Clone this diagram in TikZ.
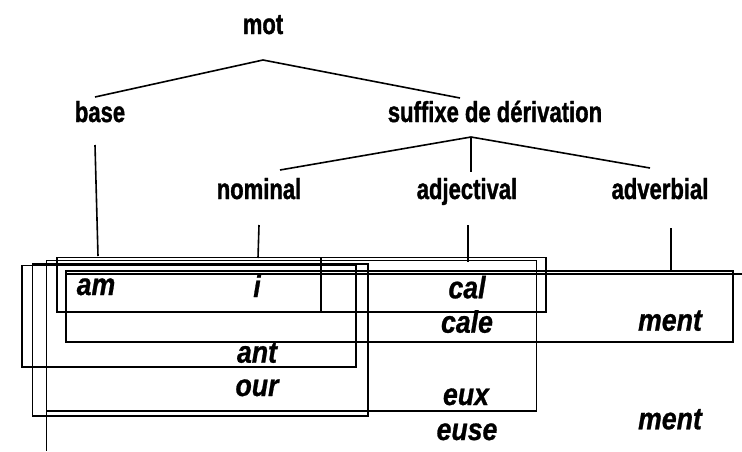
\documentclass[tikz,border=0pt]{standalone}
\usepackage{fontspec}
\setmainfont{Liberation Sans}
\newfontfamily\headfont{Liberation Sans}[FakeStretch=0.76,FakeBold=1.2]
\newfontfamily\morphfont{Liberation Sans}[FakeStretch=0.86,FakeBold=0.8]
\usetikzlibrary{calc}

\tikzset{
  cat/.style={font=\headfont\bfseries\fontsize{29}{32}\selectfont, anchor=base, inner sep=0pt},
  morph/.style={font=\morphfont\bfseries\itshape\fontsize{31}{34}\selectfont, anchor=base, inner sep=0pt},
  branch/.style={line width=1.6pt},
  frame/.style={line width=1.8pt}
}

\begin{document}
\begin{tikzpicture}[x=1pt,y=-1pt]
    \useasboundingbox (0,0) rectangle (742,451);

    % Categories
    \node[cat] (mot) at (263,34) {mot};
    \node[cat] (base) at (100,122) {base};
    \node[cat] (suffixe) at (495,122) {suffixe de dérivation};
    \node[cat] (nominal) at (259,199) {nominal};
    \node[cat] (adjectival) at (467,199) {adjectival};
    \node[cat] (adverbial) at (660,199) {adverbial};

    % Branches
    \draw[branch] ($(base.base)+(-5,-25)$) -- ($(mot.base)+(0,26)$) -- ($(suffixe.base)+(-35,-24)$);
    \draw[branch] ($(nominal.base)+(21,-29)$) -- ($(suffixe.base)+(-24,15)$) -- ($(adverbial.base)+(-10,-31)$);
    \draw[branch] ($(suffixe.base)+(-24,15)$) -- ($(adjectival.base)+(4,-27)$);

    % Links down to the segments
    \coordinate (baseend) at (98,256);
    \coordinate (nominalend) at (258,258);
    \coordinate (adjectivalend) at (468,262);
    \coordinate (adverbialend) at (671,270);
    \draw[branch] ($(base.base)+(-5,23)$) -- (baseend);
    \draw[branch] ($(nominal.base)+(0,26)$) -- (nominalend);
    \draw[branch] ($(adjectival.base)+(1,26)$) -- (adjectivalend);
    \draw[branch] ($(adverbial.base)+(11,29)$) -- (adverbialend);

    % Boxes
    \draw[frame] (56.7,257.5) rectangle (320.7,312);
    \draw[frame] (56.7,257.5) rectangle (546,312);
    \draw[frame] (65.7,271) rectangle (732.7,341.7);
    \draw[frame] (21.7,265.5) rectangle (356,366.7);
    \draw[frame] (32.5,264) rectangle (367.7,415.7);
    \draw[frame] (46.5,260.5) rectangle (536.5,411);
    \draw[frame] (46.5,260.5) -- (46.5,451);
    \draw[frame] (65.7,273.8) -- (742,273.8);

    % Segments
    \node[morph] (am) at (96,295) {am};
    \node[morph] (i) at (257,297) {i};
    \node[morph] (ant) at (257,362.7) {ant};
    \node[morph] (our) at (257,396) {our};
    \node[morph] (cal) at (467,298.3) {cal};
    \node[morph] (cale) at (467,332.7) {cale};
    \node[morph] (ment) at (670,330.7) {ment};
    \node[morph] (eux) at (466,405) {eux};
    \node[morph] (euse) at (467,440) {euse};
    \node[morph] (mentbis) at (670,429.3) {ment};
\end{tikzpicture}
\end{document}
